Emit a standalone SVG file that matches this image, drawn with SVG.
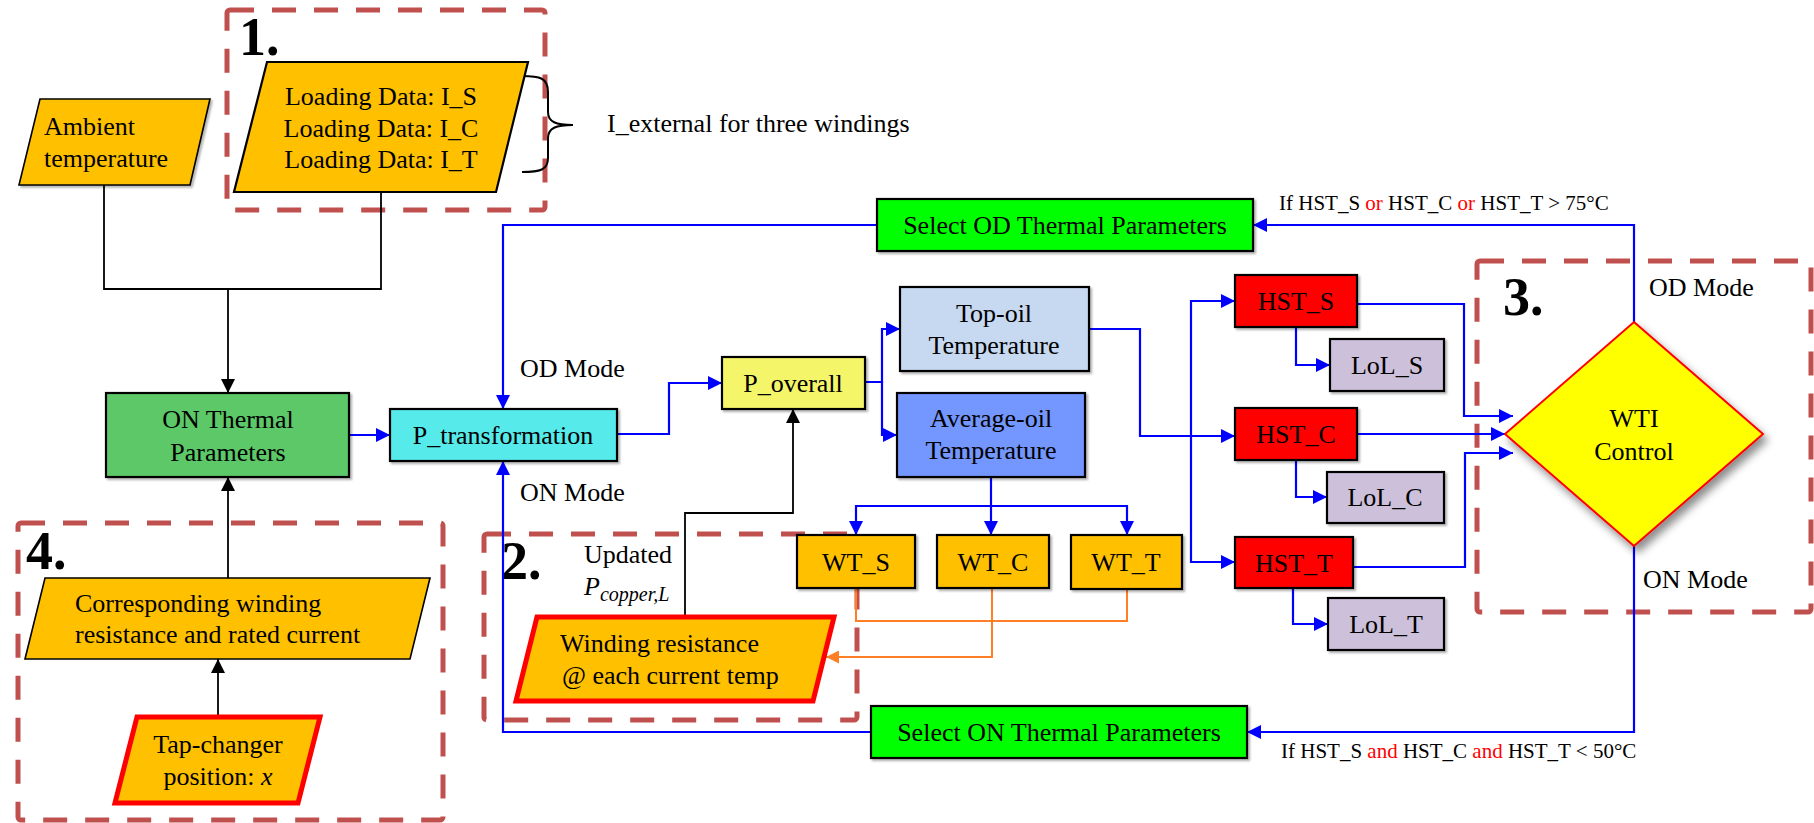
<svg xmlns="http://www.w3.org/2000/svg" width="1814" height="823" viewBox="0 0 1814 823">
<style>
text{font-family:"Liberation Serif","Times New Roman",serif;font-size:26px;fill:#000}
.c{text-anchor:middle}
.num{font-weight:bold;font-size:54px}
.cond{font-size:21px}
.red{fill:#FF0000}
.box{stroke:#000;stroke-width:2.2}
.thin{stroke:#000;stroke-width:1.6}
.hot{stroke:#FF0000;stroke-width:5;stroke-linejoin:miter}
.grp{fill:none;stroke:#C0504D;stroke-width:5;stroke-dasharray:24 18}
.b{fill:none;stroke:#0000FF;stroke-width:2.2}
.k{fill:none;stroke:#000;stroke-width:1.8}
.o{fill:none;stroke:#FF7F27;stroke-width:2}
</style>
<defs>
<marker id="ab" viewBox="0 0 14 14" refX="14" refY="7" markerWidth="14" markerHeight="14" markerUnits="userSpaceOnUse" orient="auto"><path d="M0,0 L14,7 L0,14 z" fill="#0000FF"/></marker>
<marker id="ak" viewBox="0 0 14 14" refX="14" refY="7" markerWidth="14" markerHeight="14" markerUnits="userSpaceOnUse" orient="auto"><path d="M0,0 L14,7 L0,14 z" fill="#000"/></marker>
<marker id="ao" viewBox="0 0 14 14" refX="14" refY="7" markerWidth="13" markerHeight="13" markerUnits="userSpaceOnUse" orient="auto"><path d="M0,0 L14,7 L0,14 z" fill="#FF7F27"/></marker>
<filter id="sh" x="-10%" y="-10%" width="130%" height="140%"><feDropShadow dx="2" dy="2" stdDeviation="1.2" flood-color="#000" flood-opacity="0.3"/></filter>
<filter id="dsh" x="-20%" y="-20%" width="150%" height="150%"><feDropShadow dx="4" dy="6" stdDeviation="4" flood-color="#000" flood-opacity="0.45"/></filter>
</defs>

<!-- group outlines -->
<g id="groups">
<rect class="grp" x="227" y="10" width="318" height="200" rx="3"/>
<rect class="grp" x="484" y="534" width="373" height="186" rx="3"/>
<rect class="grp" x="1477" y="261" width="334" height="351" rx="3"/>
<rect class="grp" x="18" y="523" width="425" height="297" rx="3"/>
<text class="num" x="239" y="55">1.</text>
<text class="num" x="501" y="579">2.</text>
<text class="num" x="1503" y="315">3.</text>
<text class="num" x="26" y="569">4.</text>
</g>

<!-- connectors -->
<g id="connectors">
<polyline class="k" points="104,185 104,289 381,289 381,192"/>
<line class="k" x1="228" y1="289" x2="228" y2="393" marker-end="url(#ak)"/>
<line class="k" x1="228" y1="578" x2="228" y2="477" marker-end="url(#ak)"/>
<line class="k" x1="218" y1="717" x2="218" y2="659" marker-end="url(#ak)"/>
<polyline class="k" points="685,617 685,513 793,513 793,409" marker-end="url(#ak)"/>
<line class="b" x1="349" y1="435" x2="390" y2="435" marker-end="url(#ab)"/>
<polyline class="b" points="877,225 503,225 503,409" marker-end="url(#ab)"/>
<polyline class="b" points="871,732 503,732 503,461" marker-end="url(#ab)"/>
<polyline class="b" points="617,434 669,434 669,383 722,383" marker-end="url(#ab)"/>
<polyline class="b" points="865,382 882,382 882,329 900,329" marker-end="url(#ab)"/>
<polyline class="b" points="882,382 882,435 897,435" marker-end="url(#ab)"/>
<line class="b" x1="991" y1="477" x2="991" y2="535" marker-end="url(#ab)"/>
<polyline class="b" points="991,506 856,506 856,535" marker-end="url(#ab)"/>
<polyline class="b" points="991,506 1127,506 1127,535" marker-end="url(#ab)"/>
<polyline class="b" points="1089,329 1140,329 1140,436 1235,436" marker-end="url(#ab)"/>
<polyline class="b" points="1191,436 1191,301 1235,301" marker-end="url(#ab)"/>
<polyline class="b" points="1191,436 1191,562 1235,562" marker-end="url(#ab)"/>
<polyline class="b" points="1296,327 1296,365 1330,365" marker-end="url(#ab)"/>
<polyline class="b" points="1296,460 1296,497 1327,497" marker-end="url(#ab)"/>
<polyline class="b" points="1293,588 1293,624 1328,624" marker-end="url(#ab)"/>
<polyline class="b" points="1357,304 1464,304 1464,416 1513,416" marker-end="url(#ab)"/>
<line class="b" x1="1357" y1="434" x2="1505" y2="434" marker-end="url(#ab)"/>
<polyline class="b" points="1353,567 1465,567 1465,453 1513,453" marker-end="url(#ab)"/>
<polyline class="b" points="1634,322 1634,225 1253,225" marker-end="url(#ab)"/>
<polyline class="b" points="1634,546 1634,732 1247,732" marker-end="url(#ab)"/>
<polyline class="o" points="856,588 856,621 1127,621 1127,589"/>
<polyline class="o" points="992,588 992,657 826,657" marker-end="url(#ao)"/>
<path d="M522,76 C540,76 548,78 548,92 L548,112 C548,122 556,125 573,125 C556,125 548,128 548,138 L548,158 C548,170 540,172 522,172" fill="none" stroke="#000" stroke-width="2"/>
</g>

<!-- nodes -->
<g id="ambient">
<polygon class="thin" points="40,99 210,99 190,185 19,185" fill="#FFC000" filter="url(#sh)"/>
<text x="44" y="135">Ambient</text>
<text x="44" y="167">temperature</text>
</g>
<g id="loading">
<polygon class="box" points="267,62 528,62 496,192 234,192" fill="#FFC000"/>
<text class="c" x="381" y="105">Loading Data: I_S</text>
<text class="c" x="381" y="137">Loading Data: I_C</text>
<text class="c" x="381" y="168">Loading Data: I_T</text>
</g>
<g id="iext"><text x="607" y="132">I_external for three windings</text></g>
<g id="on-thermal">
<rect class="box" x="106" y="393" width="243" height="84" fill="#5BC868" filter="url(#sh)"/>
<text class="c" x="228" y="428">ON Thermal</text>
<text class="c" x="228" y="461">Parameters</text>
</g>
<g id="corresponding">
<polygon class="thin" points="45,578 430,578 410,659 25,659" fill="#FFC000"/>
<text x="75" y="612">Corresponding winding</text>
<text x="75" y="643">resistance and rated current</text>
</g>
<g id="tap">
<polygon class="hot" points="137,717 320,717 298,803 115,803" fill="#FFC000"/>
<text class="c" x="218" y="753">Tap-changer</text>
<text class="c" x="218" y="785">position: <tspan font-style="italic">x</tspan></text>
</g>
<g id="p-trans">
<rect class="box" x="390" y="409" width="227" height="52" fill="#56EAEB" filter="url(#sh)"/>
<text class="c" x="503" y="444">P_transformation</text>
</g>
<g id="mode-labels">
<text x="520" y="377">OD Mode</text>
<text x="520" y="501">ON Mode</text>
<text x="1649" y="296">OD Mode</text>
<text x="1643" y="588">ON Mode</text>
</g>
<g id="p-overall">
<rect class="box" x="722" y="357" width="143" height="52" fill="#F5F56A" filter="url(#sh)"/>
<text class="c" x="793" y="392">P_overall</text>
</g>
<g id="select-od">
<rect class="box" x="877" y="199" width="376" height="52" fill="#00FF00" filter="url(#sh)"/>
<text class="c" x="1065" y="234">Select OD Thermal Parameters</text>
</g>
<g id="select-on">
<rect class="box" x="871" y="706" width="376" height="52" fill="#00FF00" filter="url(#sh)"/>
<text class="c" x="1059" y="741">Select ON Thermal Parameters</text>
</g>
<g id="top-oil">
<rect class="box" x="900" y="287" width="189" height="84" fill="#C6D9F1" filter="url(#sh)"/>
<text class="c" x="994" y="322">Top-oil</text>
<text class="c" x="994" y="354">Temperature</text>
</g>
<g id="avg-oil">
<rect class="box" x="897" y="393" width="188" height="84" fill="#7396FF" filter="url(#sh)"/>
<text class="c" x="991" y="427">Average-oil</text>
<text class="c" x="991" y="459">Temperature</text>
</g>
<g id="wt-s">
<rect class="box" x="797" y="535" width="118" height="53" fill="#FFC000" filter="url(#sh)"/>
<text class="c" x="856" y="571">WT_S</text>
</g>
<g id="wt-c">
<rect class="box" x="937" y="535" width="112" height="53" fill="#FFC000" filter="url(#sh)"/>
<text class="c" x="993" y="571">WT_C</text>
</g>
<g id="wt-t">
<rect class="box" x="1071" y="535" width="111" height="54" fill="#FFC000" filter="url(#sh)"/>
<text class="c" x="1126" y="571">WT_T</text>
</g>
<g id="winding">
<polygon class="hot" points="537,617 834,617 813,701 516,701" fill="#FFC000"/>
<text x="560" y="652">Winding resistance</text>
<text x="562" y="684">@ each current temp</text>
</g>
<g id="updated">
<text x="584" y="563">Updated</text>
<text x="584" y="595" font-style="italic">P<tspan font-size="20" dy="6">copper,L</tspan></text>
</g>
<g id="hst-s">
<rect class="box" x="1235" y="275" width="122" height="52" fill="#FF0000" filter="url(#sh)"/>
<text class="c" x="1296" y="310">HST_S</text>
</g>
<g id="hst-c">
<rect class="box" x="1235" y="408" width="122" height="52" fill="#FF0000" filter="url(#sh)"/>
<text class="c" x="1296" y="443">HST_C</text>
</g>
<g id="hst-t">
<rect class="box" x="1235" y="537" width="118" height="51" fill="#FF0000" filter="url(#sh)"/>
<text class="c" x="1294" y="572">HST_T</text>
</g>
<g id="lol-s">
<rect class="box" x="1330" y="339" width="114" height="52" fill="#CCC0DA" filter="url(#sh)"/>
<text class="c" x="1387" y="374">LoL_S</text>
</g>
<g id="lol-c">
<rect class="box" x="1327" y="472" width="117" height="51" fill="#CCC0DA" filter="url(#sh)"/>
<text class="c" x="1385" y="506">LoL_C</text>
</g>
<g id="lol-t">
<rect class="box" x="1328" y="598" width="116" height="52" fill="#CCC0DA" filter="url(#sh)"/>
<text class="c" x="1386" y="633">LoL_T</text>
</g>
<g id="wti">
<polygon points="1634,322 1763,434 1634,546 1505,434" fill="#FFFF00" stroke="#FF0000" stroke-width="2" filter="url(#dsh)"/>
<text class="c" x="1634" y="427">WTI</text>
<text class="c" x="1634" y="460">Control</text>
</g>
<g id="conditions">
<text class="cond" x="1279" y="210">If HST_S <tspan class="red">or</tspan> HST_C <tspan class="red">or</tspan> HST_T &gt; 75°C</text>
<text class="cond" x="1281" y="758">If HST_S <tspan class="red">and</tspan> HST_C <tspan class="red">and</tspan> HST_T &lt; 50°C</text>
</g>
</svg>
